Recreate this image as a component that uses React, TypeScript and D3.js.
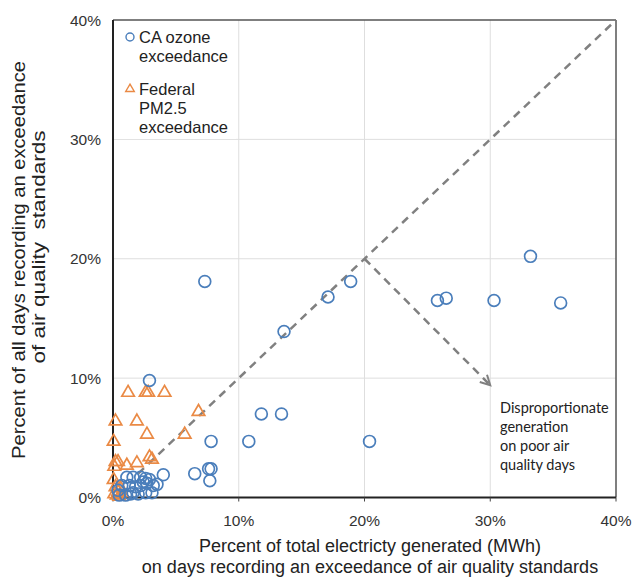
import React from "react";
import * as d3 from "d3";

const ozoneX = [33.2, 35.6, 30.3, 25.8, 26.5, 18.9, 17.1, 13.6, 7.3, 2.9, 11.8, 13.4, 10.8, 20.4, 7.8, 7.8, 7.6, 7.7, 6.5, 4.0,
  0.4, 0.7, 1.1, 1.6, 2.2, 2.6, 1.3, 1.8, 2.2, 2.7, 3.2, 3.5, 1.6, 2.0, 2.6, 3.1, 1.0, 0.5, 1.4, 2.9, 2.4];
const ozoneY = [20.2, 16.3, 16.5, 16.5, 16.7, 18.1, 16.8, 13.9, 18.1, 9.8, 7.0, 7.0, 4.7, 4.7, 4.7, 2.4, 2.4, 1.4, 2.0, 1.9,
  0.6, 1.0, 1.7, 1.7, 1.7, 1.6, 1.0, 0.9, 1.0, 1.2, 1.0, 1.1, 0.4, 0.3, 0.4, 0.4, 0.2, 0.2, 0.3, 1.5, 1.3];

const pmX = [1.2, 2.6, 2.8, 4.1, 0.2, 1.9, 2.7, 6.8, 5.7, 0.05, 0.2, 0.4, 1.1, 1.9, 2.9, 3.1, 0.1, 0.05,
  0.2, 0.4, 0.1, 0.6, 0.3, 0.7, 0.5];
const pmY = [8.7, 8.7, 8.7, 8.7, 6.3, 6.3, 5.2, 7.1, 5.2, 4.6, 2.9, 2.9, 2.6, 2.8, 3.3, 3.1, 2.5, 1.4,
  0.8, 0.4, 0.2, 0.7, 0.1, 0.3, 0.0];

const xTicks = [0, 10, 20, 30, 40];
const yTicks = [0, 10, 20, 30, 40];

const diagStart = [2, 2];
const diagEnd = [40, 40];
const arrowStart = [20, 20];
const arrowEnd = [30, 9.4];

const legendLabels = [["CA ozone", "exceedance"], ["Federal", "PM2.5", "exceedance"]];
const noteLines = ["Disproportionate", "generation", "on poor air", "quality days"];
const yTitle = ["Percent of all days recording an exceedance", "of air quality  standards"];
const xTitle = ["Percent of total electricty generated (MWh)", "on days recording an exceedance of air quality standards"];

const BLUE = "#4a7ebb";
const ORANGE = "#ea8a45";

export default function App() {
  const W = 634, H = 579;
  const L = 113, R = 616, T = 20, B = 497.5;
  const x = d3.scaleLinear().domain([0, 40]).range([L, R]);
  const y = d3.scaleLinear().domain([0, 40]).range([B, T]);
  const font = "'Liberation Sans', Arial, Helvetica, sans-serif";
  const tri = d3.symbol().type(d3.symbolTriangle).size(68)();

  const ax0 = x(arrowStart[0]), ay0 = y(arrowStart[1]);
  const ax1 = x(arrowEnd[0]), ay1 = y(arrowEnd[1]);
  const ang = Math.atan2(ay1 - ay0, ax1 - ax0);
  const hl = 11, hw = Math.PI / 6.5;
  const h1 = [ax1 - hl * Math.cos(ang - hw), ay1 - hl * Math.sin(ang - hw)];
  const h2 = [ax1 - hl * Math.cos(ang + hw), ay1 - hl * Math.sin(ang + hw)];

  const yTitlePos = [
    { bx: 25, cy: 260, len: 398 },
    { bx: 45, cy: 247, len: 233 },
  ];

  return (
    <svg width={W} height={H} style={{ position: "absolute", left: 0, top: 0, background: "#fff" }}>
      <rect x={0} y={0} width={W} height={H} fill="#fff" />
      {xTicks.slice(1, -1).map((t) => (
        <line key={"gx" + t} x1={x(t)} x2={x(t)} y1={T} y2={B} stroke="#dedede" strokeWidth={1} />
      ))}
      {yTicks.slice(1, -1).map((t) => (
        <line key={"gy" + t} x1={L} x2={R} y1={y(t)} y2={y(t)} stroke="#dedede" strokeWidth={1} />
      ))}
      <line x1={L} x2={R} y1={T} y2={T} stroke="#555" strokeWidth={1.5} />
      <line x1={R} x2={R} y1={T} y2={B} stroke="#555" strokeWidth={1.5} />
      <line x1={L} x2={L} y1={T} y2={B + 1} stroke="#222" strokeWidth={2} />
      <line x1={L - 1} x2={R} y1={B} y2={B} stroke="#222" strokeWidth={2} />
      {xTicks.map((t) => (
        <line key={"tx" + t} x1={x(t)} x2={x(t)} y1={B} y2={B + 4} stroke="#444" strokeWidth={1} />
      ))}
      {yTicks.map((t) => (
        <text key={"ly" + t} x={L - 12} y={y(t) + 5.5} textAnchor="end" fontFamily={font} fontSize={15.5} fill="#333">
          {t}%
        </text>
      ))}
      {xTicks.map((t) => (
        <text key={"lx" + t} x={x(t)} y={B + 28} textAnchor="middle" fontFamily={font} fontSize={15.5} fill="#333">
          {t}%
        </text>
      ))}
      <line x1={x(diagStart[0])} y1={y(diagStart[1])} x2={x(diagEnd[0])} y2={y(diagEnd[1])}
        stroke="#808080" strokeWidth={2.5} strokeDasharray="8,6" />
      <line x1={ax0} y1={ay0} x2={ax1} y2={ay1} stroke="#808080" strokeWidth={2.5} strokeDasharray="8,6" />
      <path d={`M${h1[0]},${h1[1]}L${ax1},${ay1}L${h2[0]},${h2[1]}`} fill="none" stroke="#808080" strokeWidth={2} />
      {pmX.map((v, i) => (
        <path key={"p" + i} d={tri} transform={`translate(${x(v)},${y(pmY[i]) - 1})`} fill="none" stroke={ORANGE} strokeWidth={1.7} />
      ))}
      {ozoneX.map((v, i) => (
        <circle key={"o" + i} cx={x(v)} cy={y(ozoneY[i])} r={5.9} fill="none" stroke={BLUE} strokeWidth={1.7} />
      ))}
      <rect x={L + 1} y={T + 1} width={122} height={118} fill="#fff" />
      <circle cx={130} cy={37} r={4} fill="none" stroke={BLUE} strokeWidth={1.4} />
      <path d={d3.symbol().type(d3.symbolTriangle).size(32)()} transform="translate(130,89)" fill="none" stroke={ORANGE} strokeWidth={1.4} />
      {legendLabels[0].map((s, i) => (
        <text key={"la" + i} x={139} y={43 + i * 19} fontFamily={font} fontSize={16.5} fill="#222">{s}</text>
      ))}
      {legendLabels[1].map((s, i) => (
        <text key={"lb" + i} x={139} y={94.5 + i * 19} fontFamily={font} fontSize={16.5} fill="#222">{s}</text>
      ))}
      {noteLines.map((s, i) => (
        <text key={"n" + i} x={500} y={413 + i * 19} fontFamily="Lato, 'Open Sans', sans-serif" fontSize={14.5} fill="#222">{s}</text>
      ))}
      {yTitle.map((s, i) => (
        <text key={"yt" + i} transform={`translate(${yTitlePos[i].bx},${yTitlePos[i].cy}) rotate(-90)`} textAnchor="middle"
          fontFamily={font} fontSize={18} fill="#222" style={{ whiteSpace: "pre" }}
          textLength={yTitlePos[i].len} lengthAdjust="spacingAndGlyphs">{s}</text>
      ))}
      {xTitle.map((s, i) => (
        <text key={"xt" + i} x={370} y={552 + i * 21} textAnchor="middle" fontFamily={font} fontSize={18} fill="#222">{s}</text>
      ))}
    </svg>
  );
}
